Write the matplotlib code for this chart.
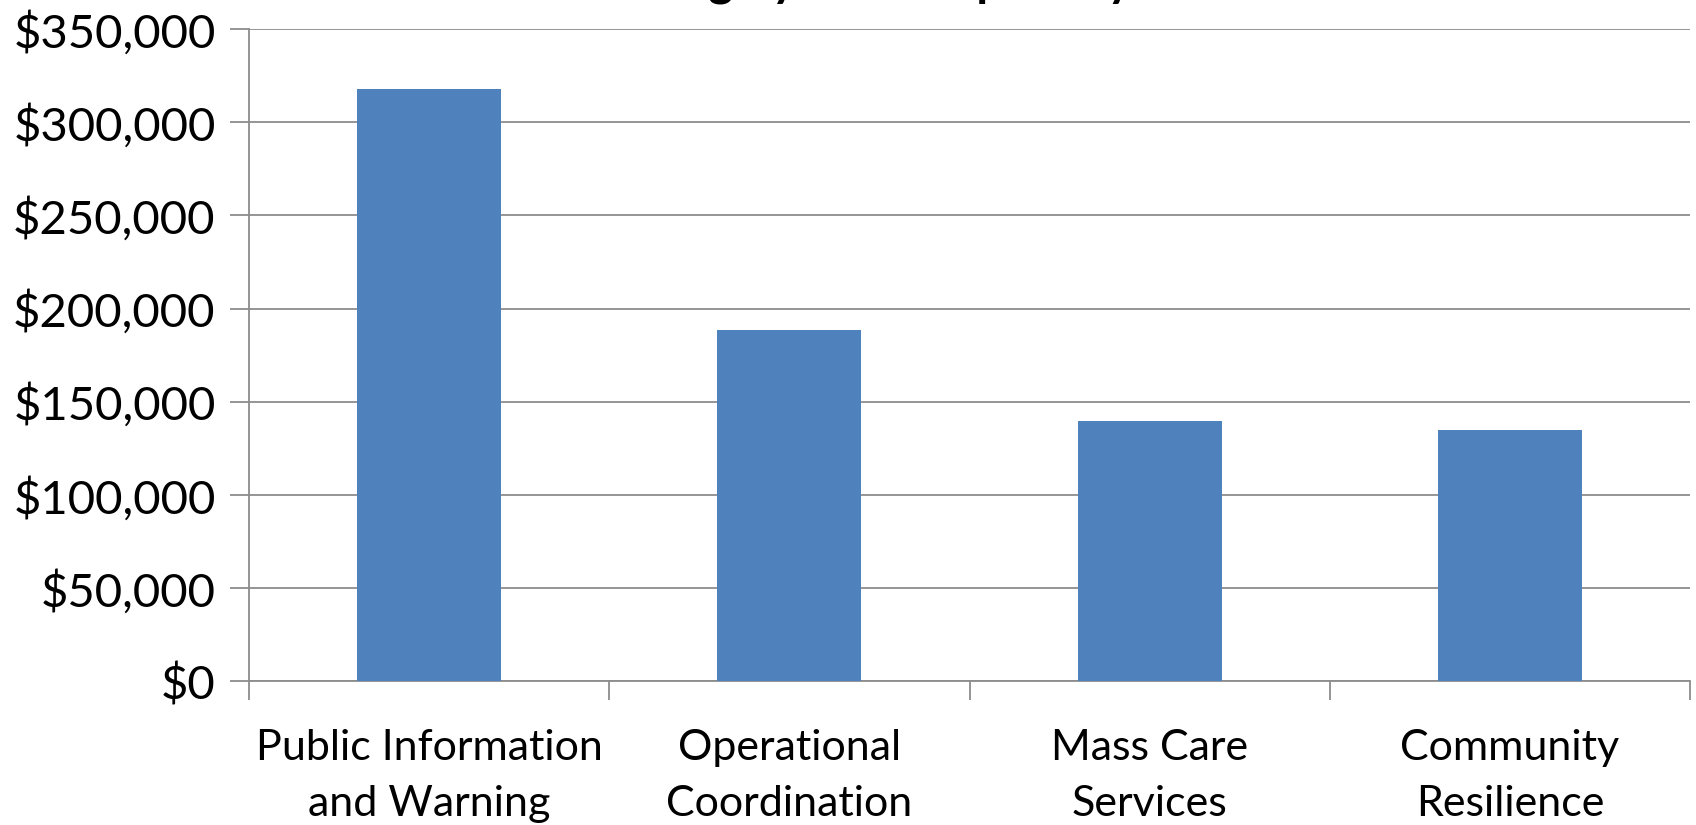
import numpy as np
import matplotlib
matplotlib.use('Agg')
import matplotlib.pyplot as plt
from matplotlib.ticker import FuncFormatter, MultipleLocator

# Data
categories = ['Public Information\nand Warning', 'Operational\nCoordination',
              'Mass Care\nServices', 'Community\nResilience']
funding = [318000, 188700, 139800, 135000]
title = 'Funding by Core Capability'

plt.rcParams['font.family'] = ['Lato', 'DejaVu Sans']

fig = plt.figure(figsize=(16.96, 8.25), dpi=100)
ax = fig.add_axes([0.1468, 0.174, 0.8497, 0.791])

x = np.arange(len(categories))
ax.bar(x, funding, width=0.4, color='#4f81bd', zorder=3)

ax.set_xlim(-0.5, len(categories) - 0.5)
ax.set_ylim(0, 350000)
ax.yaxis.set_major_locator(MultipleLocator(50000))
ax.yaxis.set_major_formatter(FuncFormatter(lambda v, p: '${:,.0f}'.format(v)))
ax.grid(axis='y', color='#8c8c8c', linewidth=1.3, zorder=0)

# Category boundaries carry the tick marks, labels sit at the centers
ax.set_xticks(np.arange(len(categories) + 1) - 0.5)
ax.set_xticklabels([])
ax.set_xticks(x, minor=True)
ax.set_xticklabels(categories, minor=True, fontsize=31, linespacing=1.6)
ax.tick_params(axis='x', which='minor', length=0, pad=34)
ax.tick_params(axis='x', which='major', length=14, color='#8c8c8c', width=1.3)
ax.tick_params(axis='y', length=14, color='#8c8c8c', width=1.3, labelsize=34, pad=10)

for side in ['top', 'right']:
    ax.spines[side].set_visible(False)
for side in ['left', 'bottom']:
    ax.spines[side].set_color('#8c8c8c')
    ax.spines[side].set_linewidth(1.3)

# Title is clipped by the top edge in the original
fig.text(0.5, 1.006, title, ha='center', va='baseline', fontsize=34, fontweight='bold')

plt.savefig('out.png', dpi=100)
